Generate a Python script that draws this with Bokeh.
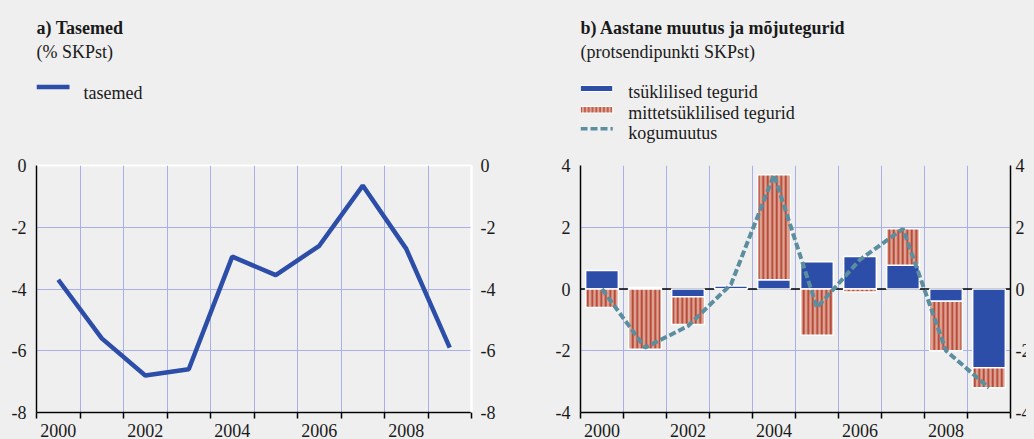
from bokeh.plotting import figure
from bokeh.layouts import row, column
from bokeh.models import FixedTicker, LinearAxis, Span
from bokeh.core.properties import value
from bokeh.embed import file_html
from bokeh.resources import INLINE

# ---- data ----
years = [2000, 2001, 2002, 2003, 2004, 2005, 2006, 2007, 2008, 2009]
levels = [-3.7, -5.6, -6.8, -6.6, -2.95, -3.55, -2.6, -0.65, -2.7, -5.9]
cyclical = [0.6, 0.05, -0.25, 0.1, 0.3, 0.88, 1.05, 0.77, -0.4, -2.55]
noncyclical = [-0.6, -1.95, -0.9, 0.0, 3.4, -1.5, -0.1, 1.18, -1.6, -0.65]
total_change = [0.0, -1.9, -1.2, 0.15, 3.7, -0.6, 0.95, 1.95, -2.0, -3.2]
tick_years = [2000, 2002, 2004, 2006, 2008]
yticks_a = [-8, -6, -4, -2, 0]
yticks_b = [-4, -2, 0, 2, 4]

title_a = "a) Tasemed"
sub_a = "(% SKPst)"
legend_a = "tasemed"
title_b = "b) Aastane muutus ja mõjutegurid"
sub_b = "(protsendipunkti SKPst)"
legend_b = ["tsüklilised tegurid", "mittetsüklilised tegurid", "kogumuutus"]

# ---- style ----
BG = "#efefef"
GRID = "#a9afe8"
BLUE = "#2c4ea8"
SALMON = "#dea392"
STRIPE = "#b3402f"
TEAL = "#5b8e9f"
TXT = "#1a1a1a"
FONT = "Liberation Serif"
FS = "18px"
HEAD_H = 145
CHART_H = 286
WA, LA, RA = 536, 28, 73
WB, LB, RB = 489, 36, 20

bounds = [y - 0.5 for y in years] + [years[-1] + 0.5]
inner_bounds = bounds[1:-1]


def make_header(width, left, right):
    # header whose data coordinates equal canvas pixels (x from left, y from top)
    h = figure(width=width, height=HEAD_H, x_range=(left, width - right), y_range=(HEAD_H, 0),
               output_backend="svg", toolbar_location=None,
               min_border_left=left, min_border_right=right,
               min_border_top=0, min_border_bottom=0,
               x_axis_location=None, y_axis_location=None,
               background_fill_color=BG, border_fill_color=BG, outline_line_color=None)
    h.grid.visible = False
    return h


def header_text(h, xs, ys, texts, bold=False):
    h.text(x=xs, y=ys, text=texts, text_font=value(FONT), text_font_size=value(FS),
           text_font_style="bold" if bold else "normal", text_color=TXT,
           text_align="left", text_baseline="alphabetic")


def make_fig(width, yr, min_left, min_right):
    p = figure(width=width, height=CHART_H, x_range=(bounds[0], bounds[-1]), y_range=yr,
               output_backend="svg", toolbar_location=None,
               min_border_left=min_left, min_border_right=min_right,
               min_border_top=12, min_border_bottom=26,
               background_fill_color=BG, border_fill_color=BG,
               outline_line_color=None)
    xa = p.xaxis[0]
    xa.ticker = FixedTicker(ticks=tick_years, minor_ticks=bounds)
    xa.major_tick_out = 0
    xa.major_tick_in = 0
    xa.minor_tick_out = 6
    xa.minor_tick_in = 0
    xa.minor_tick_line_color = "black"
    xa.minor_tick_line_width = 1.5
    xa.axis_line_color = "black"
    xa.axis_line_width = 1.5
    xa.major_label_standoff = 5
    xa.major_label_text_font = FONT
    xa.major_label_text_font_size = FS
    xa.major_label_text_color = TXT
    xa.major_label_overrides = {y: str(y) for y in tick_years}
    p.xgrid.ticker = FixedTicker(ticks=inner_bounds)
    p.xgrid.grid_line_color = GRID
    p.ygrid.grid_line_color = GRID
    return p


def style_yaxis(ax, ticks, standoff, color):
    ax.ticker = FixedTicker(ticks=ticks)
    ax.major_tick_out = 0
    ax.major_tick_in = 0
    ax.minor_tick_out = 0
    ax.minor_tick_in = 0
    ax.axis_line_color = color
    ax.axis_line_width = 1.5 if color == "black" else 2
    ax.major_label_standoff = standoff
    ax.major_label_text_font = FONT
    ax.major_label_text_font_size = FS
    ax.major_label_text_color = TXT
    ax.major_label_overrides = {t: str(t) for t in ticks}


# ---- panel a header ----
ha = make_header(WA, LA, RA)
header_text(ha, [28], [19], [title_a], bold=True)
header_text(ha, [28], [43], [sub_a])
ha.line(x=[28, 61], y=[78.5, 78.5], line_color=BLUE, line_width=4.5)
header_text(ha, [75], [84], [legend_a])

# ---- panel a chart ----
pa = make_fig(WA, (yticks_a[0], yticks_a[-1]), LA, RA)
pa.outline_line_color = "white"
pa.outline_line_width = 2
pa.ygrid.ticker = FixedTicker(ticks=yticks_a[1:-1])
style_yaxis(pa.yaxis[0], yticks_a, 10, "black")
ra = LinearAxis()
pa.add_layout(ra, "right")
style_yaxis(ra, yticks_a, 9, "white")
pa.line(years, levels, line_color=BLUE, line_width=4.5)

# ---- panel b header ----
hb = make_header(WB, LB, RB)
header_text(hb, [36], [19], [title_b], bold=True)
header_text(hb, [36], [43], [sub_b])
hb.quad(left=[36], right=[68.5], top=[77], bottom=[83], fill_color=BLUE,
        line_color="white", line_width=1)
hb.quad(left=[36], right=[68.5], top=[98], bottom=[104.5], fill_color=SALMON,
        hatch_pattern="vertical_line", hatch_color=STRIPE, hatch_weight=1.3, hatch_scale=3.8,
        line_color="white", line_width=1)
hb.line(x=[36, 68.5], y=[120.3, 120.3], line_color=TEAL, line_width=3.5, line_dash="7 3")
header_text(hb, [84, 84, 84], [83, 104, 124.5], legend_b)

# ---- panel b chart ----
pb = make_fig(WB, (yticks_b[0], yticks_b[-1]), LB, RB)
pb.ygrid.ticker = FixedTicker(ticks=yticks_b[1:])
style_yaxis(pb.yaxis[0], yticks_b, 10, "black")
rb = LinearAxis()
pb.add_layout(rb, "right")
style_yaxis(rb, yticks_b, 5, "black")
pb.add_layout(Span(location=0, dimension="width", line_color="black", line_width=1.5, level="underlay"))

nc_bottom = [c if (c * n > 0) else 0.0 for c, n in zip(cyclical, noncyclical)]
nc_top = [b + n for b, n in zip(nc_bottom, noncyclical)]

pb.vbar(x=years, bottom=0, top=cyclical, width=0.76, fill_color=BLUE,
        line_color="white", line_width=1.5)
pb.vbar(x=years, bottom=nc_bottom, top=nc_top, width=0.76, fill_color=SALMON,
        hatch_pattern="vertical_line", hatch_color=STRIPE, hatch_weight=1.8, hatch_scale=4.5,
        line_color="white", line_width=1.5)
pb.line(years, total_change, line_color=TEAL, line_width=4, line_dash="7 3")

layout = row(column(ha, pa, spacing=0), column(hb, pb, spacing=0), spacing=0)

html = file_html(layout, INLINE)
html = html.replace("</head>", "<style>html,body{background:%s;overflow:hidden;}body{margin:8px;}</style></head>" % BG, 1)
open("out.html", "w").write(html)
